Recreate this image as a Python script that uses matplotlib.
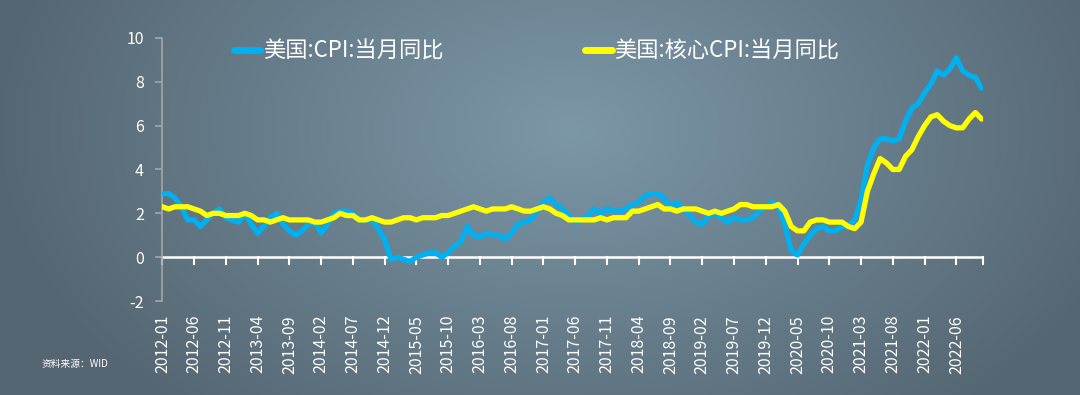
import numpy as np
import matplotlib
matplotlib.use("Agg")
import matplotlib.pyplot as plt

plt.rcParams['font.family'] = ['Noto Sans CJK SC', 'DejaVu Sans']

start_year, start_month = 2012, 1
cpi = [2.9, 2.9, 2.7, 2.3, 1.7, 1.7, 1.4, 1.7, 2.0, 2.2, 1.8, 1.7,
       1.6, 2.0, 1.5, 1.1, 1.4, 1.8, 2.0, 1.5, 1.2, 1.0, 1.2, 1.5,
       1.6, 1.1, 1.5, 2.0, 2.1, 2.1, 2.0, 1.7, 1.7, 1.7, 1.3, 0.8,
       -0.1, 0.0, -0.1, -0.2, 0.0, 0.1, 0.2, 0.2, 0.0, 0.2, 0.5, 0.7,
       1.4, 1.0, 0.9, 1.1, 1.0, 1.0, 0.8, 1.1, 1.5, 1.6, 1.7, 2.1,
       2.5, 2.7, 2.4, 2.2, 1.9, 1.6, 1.7, 1.9, 2.2, 2.0, 2.2, 2.1,
       2.1, 2.2, 2.4, 2.5, 2.8, 2.9, 2.9, 2.7, 2.3, 2.5, 2.2, 1.9,
       1.6, 1.5, 1.9, 2.0, 1.8, 1.6, 1.8, 1.7, 1.7, 1.8, 2.1, 2.3,
       2.5, 2.3, 1.5, 0.3, 0.1, 0.6, 1.0, 1.3, 1.4, 1.2, 1.2, 1.4,
       1.4, 1.7, 2.6, 4.2, 5.0, 5.4, 5.4, 5.3, 5.4, 6.2, 6.8, 7.0,
       7.5, 7.9, 8.5, 8.3, 8.6, 9.1, 8.5, 8.3, 8.2, 7.7]
core = [2.3, 2.2, 2.3, 2.3, 2.3, 2.2, 2.1, 1.9, 2.0, 2.0, 1.9, 1.9,
        1.9, 2.0, 1.9, 1.7, 1.7, 1.6, 1.7, 1.8, 1.7, 1.7, 1.7, 1.7,
        1.6, 1.6, 1.7, 1.8, 2.0, 1.9, 1.9, 1.7, 1.7, 1.8, 1.7, 1.6,
        1.6, 1.7, 1.8, 1.8, 1.7, 1.8, 1.8, 1.8, 1.9, 1.9, 2.0, 2.1,
        2.2, 2.3, 2.2, 2.1, 2.2, 2.2, 2.2, 2.3, 2.2, 2.1, 2.1, 2.2,
        2.3, 2.2, 2.0, 1.9, 1.7, 1.7, 1.7, 1.7, 1.7, 1.8, 1.7, 1.8,
        1.8, 1.8, 2.1, 2.1, 2.2, 2.3, 2.4, 2.2, 2.2, 2.1, 2.2, 2.2,
        2.2, 2.1, 2.0, 2.1, 2.0, 2.1, 2.2, 2.4, 2.4, 2.3, 2.3, 2.3,
        2.3, 2.4, 2.1, 1.4, 1.2, 1.2, 1.6, 1.7, 1.7, 1.6, 1.6, 1.6,
        1.4, 1.3, 1.6, 3.0, 3.8, 4.5, 4.3, 4.0, 4.0, 4.6, 4.9, 5.5,
        6.0, 6.4, 6.5, 6.2, 6.0, 5.9, 5.9, 6.3, 6.6, 6.3]
labels_cpi = "美国:CPI:当月同比"
labels_core = "美国:核心CPI:当月同比"
source = "资料来源：WID"
yticks = [-2, 0, 2, 4, 6, 8, 10]

n = len(cpi)
months = [f"{start_year + (start_month - 1 + i) // 12}-{(start_month - 1 + i) % 12 + 1:02d}" for i in range(n)]
x = np.arange(n)

W, H = 1080, 395
fig = plt.figure(figsize=(W / 100, H / 100), dpi=100)

# background radial gradient
bg = fig.add_axes([0, 0, 1, 1], zorder=0)
yy, xx = np.mgrid[0:H, 0:W]
d = np.sqrt(((xx - 570) / 580.0) ** 2 + ((yy - 130) / 380.0) ** 2)
d = np.clip(d, 0, 1)
c_in = np.array([0x7C, 0x97, 0xA7]) / 255
c_out = np.array([0x55, 0x66, 0x72]) / 255
img = c_in[None, None, :] * (1 - d[..., None]) + c_out[None, None, :] * d[..., None]
bg.imshow(img, aspect='auto', extent=[0, 1, 0, 1])
bg.axis('off')

ax = fig.add_axes([162 / W, 1 - 301 / H, (983 - 162) / W, (301 - 38) / H], zorder=1)
ax.patch.set_alpha(0)
ax.set_xlim(-0.05, n - 1 + 0.2)
ax.set_ylim(-2, 10)

l1, = ax.plot(x, cpi, color='#00B0F0', lw=3.8, solid_joinstyle='round', solid_capstyle='round', zorder=3)
l2, = ax.plot(x, core, color='#FFFF00', lw=3.8, solid_joinstyle='round', solid_capstyle='round', zorder=4)

for s in ['top', 'right', 'bottom']:
    ax.spines[s].set_visible(False)
ax.spines['left'].set_color('#A6A6A6')
ax.spines['left'].set_linewidth(1.2)
ax.axhline(0, color='white', lw=1.8, zorder=2)

ax.set_yticks(yticks)
ax.set_yticklabels([str(v) for v in yticks])
ax.tick_params(axis='y', colors='#A6A6A6', length=5, width=1.2, labelcolor='white', labelsize=11.5, pad=8)

tick_idx = list(range(0, n, 5))
ax.set_xticks(tick_idx)
ax.set_xticklabels([months[i] for i in tick_idx], rotation=90)
ax.tick_params(axis='x', length=0, labelcolor='white', labelsize=11.5, pad=10)
for i in tick_idx + [n - 1 + 0.2]:
    ax.plot([i, i], [0, -0.3], color='white', lw=1.5, zorder=2, clip_on=False)

leg = ax.legend([l1, l2], [labels_cpi, labels_core], loc='upper left', bbox_to_anchor=(0.063, 1.07),
                ncol=2, frameon=False, fontsize=16, handlelength=1.2, handletextpad=0.1,
                columnspacing=6.4, labelcolor='white')
for h in leg.legend_handles:
    h.set_linewidth(5)

fig.text(42 / W, 1 - 364 / H, source, color='white', fontsize=7, va='center', ha='left')

fig.savefig('out.png', dpi=100)
